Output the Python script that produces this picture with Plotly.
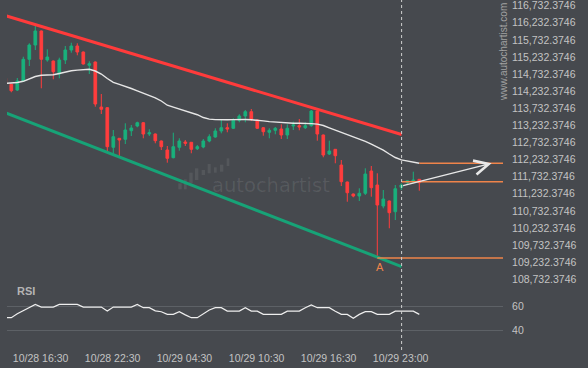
import plotly.graph_objects as go

# ---------------- data ----------------
bar_index = list(range(70))
opens = [114610, 114434, 114267, 114531, 115165, 115583, 115993, 115145, 115115, 114735,
         115145, 115437, 115554, 115378, 114990, 115086, 113770, 113750, 112592, 112855,
         112826, 113077, 113215, 113311, 112981, 112981, 112776, 112513, 112288, 112592,
         112747, 112738, 112551, 112601, 112776, 112893, 113069, 113165, 113148, 113381,
         113507, 113633, 113390, 113165, 113031, 113089, 113127, 112952, 113215, 113224,
         113165, 113224, 113653, 112952, 112396, 112533, 112074, 111577, 111226, 111168,
         111247, 111899, 111490, 110876, 111022, 110709, 111422, 111557, 111586, 111656]
highs = [114633, 114443, 114618, 115241, 115633, 116147, 116007, 115457, 115130, 115212,
         115554, 115650, 115633, 115393, 115107, 115101, 114150, 113770, 113098, 112864,
         113294, 113244, 113341, 113332, 113118, 112996, 112791, 112630, 113019, 112855,
         112805, 112747, 112659, 112835, 112972, 113148, 113390, 113294, 113440, 113557,
         113683, 113712, 113405, 113186, 113148, 113186, 113264, 113264, 113341, 113419,
         113323, 113683, 113668, 112966, 112785, 112542, 112221, 111592, 111241, 111393,
         111978, 112045, 111832, 111343, 111036, 111490, 111539, 111636, 111879, 111665]
lows = [114414, 114200, 114238, 114510, 114969, 115437, 114317, 115095, 114580, 114610,
        115028, 115358, 115282, 115013, 114735, 113779, 113566, 112484, 112396, 112338,
        112688, 112922, 113177, 112855, 112922, 112709, 112513, 112142, 112270, 112493,
        112630, 112417, 112513, 112563, 112738, 112873, 113001, 113031, 113127, 113323,
        113323, 113361, 113127, 112931, 112855, 112972, 112835, 112835, 113098, 113089,
        113127, 113194, 112785, 112300, 112367, 112124, 111460, 111001, 111130, 111022,
        111197, 111148, 109355, 110808, 110224, 110466, 111343, 111519, 111539, 111323]
closes = [114443, 114247, 114531, 115165, 115583, 115993, 115165, 115232, 114803, 115145,
          115437, 115554, 115378, 115028, 115036, 113858, 113703, 112610, 112902, 112805,
          113098, 113156, 113311, 112981, 113019, 112785, 112610, 112270, 112610, 112776,
          112709, 112533, 112610, 112776, 112902, 113069, 113165, 113127, 113381, 113507,
          113633, 113419, 113148, 113048, 113089, 113148, 112952, 113148, 113244, 113186,
          113224, 113653, 112981, 112367, 112484, 112346, 111586, 111264, 111168, 111247,
          111811, 111411, 110905, 111080, 110680, 111381, 111490, 111615, 111636, 111557]

ma_values = [114463, 114472, 114487, 114522, 114589, 114662, 114700, 114706, 114712, 114750,
             114794, 114829, 114849, 114864, 114873, 114823, 114735, 114604, 114492, 114434,
             114361, 114311, 114241, 114177, 114112, 114039, 113946, 113823, 113767, 113709,
             113653, 113604, 113545, 113463, 113417, 113402, 113393, 113396, 113402, 113411,
             113405, 113396, 113387, 113364, 113343, 113326, 113314, 113300, 113294, 113294,
             113294, 113285, 113270, 113229, 113162, 113098, 113036, 112978, 112908, 112838,
             112767, 112688, 112601, 112507, 112396, 112294, 112226, 112185, 112153, 112124]

rsi_values = [50.7, 50.7, 54.0, 56.5, 59.0, 61.6, 59.4, 59.4, 59.4, 61.6,
              61.6, 61.6, 61.6, 59.4, 59.4, 59.4, 59.4, 56.1, 59.4, 59.4,
              59.4, 59.4, 61.6, 58.9, 58.9, 56.3, 55.6, 53.4, 53.4, 55.6,
              53.0, 50.7, 50.7, 53.5, 57.0, 58.9, 58.9, 56.1, 56.1, 56.1,
              58.9, 56.1, 56.1, 53.4, 53.4, 53.4, 53.4, 56.1, 56.1, 56.1,
              58.9, 61.1, 58.9, 58.9, 58.9, 56.0, 53.4, 53.4, 50.2, 53.4,
              55.6, 55.6, 53.4, 53.4, 53.4, 56.1, 56.1, 56.1, 56.1, 53.4]

channel_x = [0, 66.05]
channel_top = [116443, 112966]
channel_bottom = [113601, 109106]

now_index = 66.05
support_level = 109355
support_start = 62
target_level = 112124
target_start = 69
current_level = 111586
arrow_x = [66.05, 81.05]
arrow_y = [111460, 112124]

price_ticks = [108732.3746, 109232.3746, 109732.3746, 110232.3746, 110732.3746, 111232.3746,
               111732.3746, 112232.3746, 112732.3746, 113232.3746, 113732.3746, 114232.3746,
               114732.3746, 115232.3746, 115732.3746, 116232.3746, 116732.3746]
rsi_ticks = [40, 60]
x_tick_pos = [5.88, 17.88, 29.85, 41.88, 53.88, 65.88]
x_tick_labels = ["10/28 16:30", "10/28 22:30", "10/29 04:30", "10/29 10:30",
                 "10/29 16:30", "10/29 23:00"]

# ---------------- style ----------------
BG = "#46494e"
GREEN = "#19b07c"
RED = "#ff3d3d"
CH_RED = "#ff3b3b"
CH_GREEN = "#17a377"
ORANGE = "#ef844a"
TXT = "#c3c3c3"
FONT = "Liberation Sans, Arial, sans-serif"

X_RANGE = [0.283, 82.95]
W, H = 588, 368
ML, MR, MT, MB = 7, 85, 0, 18
PW, PH = W - ML - MR, H - MT - MB

fig = go.Figure()

# channel lines
fig.add_trace(go.Scatter(x=channel_x, y=channel_top, mode="lines",
                         line=dict(color=CH_RED, width=3), yaxis="y", hoverinfo="skip"))
fig.add_trace(go.Scatter(x=channel_x, y=channel_bottom, mode="lines",
                         line=dict(color=CH_GREEN, width=3), yaxis="y", hoverinfo="skip"))

# moving average
fig.add_trace(go.Scatter(x=bar_index, y=ma_values, mode="lines",
                         line=dict(color="#e6e6e6", width=1.4), yaxis="y", hoverinfo="skip"))

# level lines
fig.add_trace(go.Scatter(x=[support_start, X_RANGE[1]], y=[support_level, support_level],
                         mode="lines", line=dict(color=ORANGE, width=1.5), yaxis="y"))
fig.add_trace(go.Scatter(x=[target_start, X_RANGE[1]], y=[target_level, target_level],
                         mode="lines", line=dict(color=ORANGE, width=1.5), yaxis="y"))
fig.add_trace(go.Scatter(x=[now_index, X_RANGE[1]], y=[current_level, current_level],
                         mode="lines", line=dict(color=ORANGE, width=1.5), yaxis="y"))

# candles
fig.add_trace(go.Candlestick(
    x=bar_index, open=opens, high=highs, low=lows, close=closes,
    increasing=dict(line=dict(color=GREEN, width=1), fillcolor=GREEN),
    decreasing=dict(line=dict(color=RED, width=1), fillcolor=RED),
    whiskerwidth=0, yaxis="y", hoverinfo="skip"))

# RSI
fig.add_trace(go.Scatter(x=bar_index, y=rsi_values, mode="lines",
                         line=dict(color="#eeeeee", width=1.2), yaxis="y2", hoverinfo="skip"))

# arrow
fig.add_annotation(x=arrow_x[1], y=arrow_y[1], ax=arrow_x[0], ay=arrow_y[0],
                   xref="x", yref="y", axref="x", ayref="y", text="",
                   showarrow=True, arrowhead=5, arrowsize=2.0, arrowwidth=1.4,
                   arrowcolor="#e8e8e8")

# now marker
fig.add_shape(type="line", xref="x", yref="paper", x0=now_index, x1=now_index, y0=0, y1=1,
              line=dict(color="#cfcfcf", width=1, dash="3px,3px"))

# texts
fig.add_annotation(x=support_start + 0.45, y=support_level, xref="x", yref="y", text="A",
                   showarrow=False, yanchor="top", yshift=-1,
                   font=dict(family=FONT, size=11, color=ORANGE))
fig.add_annotation(x=(15 - ML) / PW, y=(PH - 291) / PH, xref="paper", yref="paper", text="<b>RSI</b>",
                   showarrow=False, xanchor="left", yanchor="middle",
                   font=dict(family=FONT, size=11, color="#b4b4b4"))
fig.add_annotation(x=1.0, y=(PH - 52) / PH, xref="paper", yref="paper", text="www.autochartist.com",
                   showarrow=False, textangle=-90, xanchor="center", yanchor="middle",
                   font=dict(family=FONT, size=10, color="#a2a2a2"))
fig.add_annotation(x=(271 - ML) / PW, y=(PH - 185) / PH, xref="paper", yref="paper", text="autochartist",
                   showarrow=False, xanchor="center", yanchor="middle",
                   font=dict(family="DejaVu Sans", size=19.5, color="rgba(255,255,255,0.09)"))

# watermark logo bars (pixel boxes)
logo_bars = [(178.3, 181.7, 183.3, 189.3), (184.0, 186.7, 179.3, 189.3), (189.3, 192.7, 172.7, 183.3),
             (195.0, 198.3, 168.3, 180.0), (201.7, 205.0, 170.0, 175.0), (207.7, 210.7, 164.0, 173.3),
             (214.0, 216.7, 167.3, 172.7), (220.0, 223.3, 164.7, 171.7), (226.7, 229.3, 158.3, 166.0)]
for x0, x1, y0, y1 in logo_bars:
    fig.add_shape(type="rect", xref="paper", yref="paper",
                  x0=(x0 - ML) / PW, x1=(x1 - ML) / PW, y0=(PH - y1) / PH, y1=(PH - y0) / PH,
                  line=dict(width=0), fillcolor="rgba(255,255,255,0.08)", layer="below")

fig.update_layout(
    width=W, height=H, margin=dict(l=ML, r=MR, t=MT, b=MB, autoexpand=False),
    paper_bgcolor=BG, plot_bgcolor=BG, showlegend=False, boxgap=0.36,
    font=dict(family=FONT, color=TXT),
    xaxis=dict(range=X_RANGE, anchor="y2", showgrid=False, zeroline=False, showline=False,
               tickmode="array", tickvals=x_tick_pos, ticktext=x_tick_labels,
               tickfont=dict(family=FONT, size=10.5, color=TXT), ticks="",
               ticklabeloverflow="allow",
               rangeslider=dict(visible=False), fixedrange=True),
    yaxis=dict(domain=[(PH - 285) / PH, 1], range=[108566, 116899], side="right", anchor="x",
               tickmode="array", tickvals=price_ticks, tickformat=",.4f",
               showgrid=False, zeroline=False, showline=False,
               ticks="outside", ticklen=6, tickcolor=BG, ticklabeloverflow="allow",
               tickfont=dict(family=FONT, size=10.5, color=TXT), fixedrange=True),
    yaxis2=dict(domain=[0, 60 / PH], range=[24.2, 73.4], side="right", anchor="x",
                tickmode="array", tickvals=rsi_ticks, showgrid=True, gridcolor="#5d6166",
                gridwidth=1, zeroline=False, showline=False,
                ticks="outside", ticklen=6, tickcolor=BG, ticklabeloverflow="allow",
                tickfont=dict(family=FONT, size=10.5, color=TXT), fixedrange=True),
)

fig.write_html("out.html", config={"displayModeBar": False},
               post_script="document.body.style.margin='0';document.body.style.background='" + BG + "';")
